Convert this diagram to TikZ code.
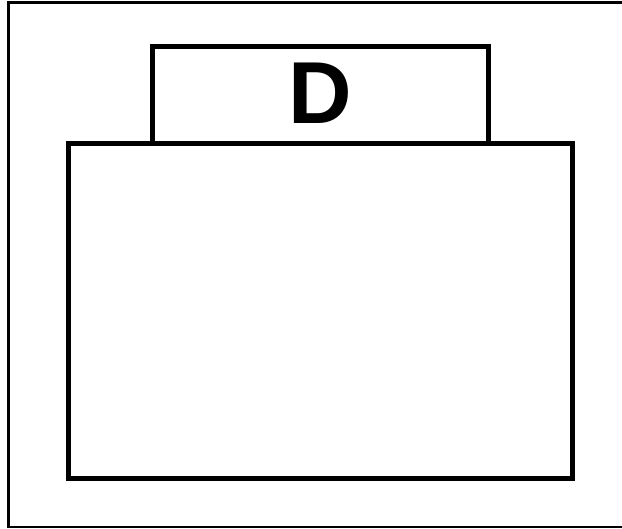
\documentclass[tikz,border=0pt]{standalone}
\usepackage{fontspec}
\setmainfont{Liberation Sans}
\begin{document}
\begin{tikzpicture}[x=1pt,y=-1pt,
  frameline/.style={line width=2.5pt},
  boxline/.style={draw, line width=5pt, line join=miter},
  label/.style={font=\bfseries\fontsize{88}{88}\selectfont, inner sep=0pt}]
\useasboundingbox (0,0) rectangle (622,529);
\begin{scope}
\clip (0,0) rectangle (622,529);
\draw[frameline] (8.5,2.5) rectangle (630,527);
\end{scope}
\draw[boxline] (152,47) rectangle (488,144);
\draw[boxline] (68,144) rectangle (572,479);
\node[label] (d) at (320.5,93.5) {D};
\end{tikzpicture}
\end{document}
